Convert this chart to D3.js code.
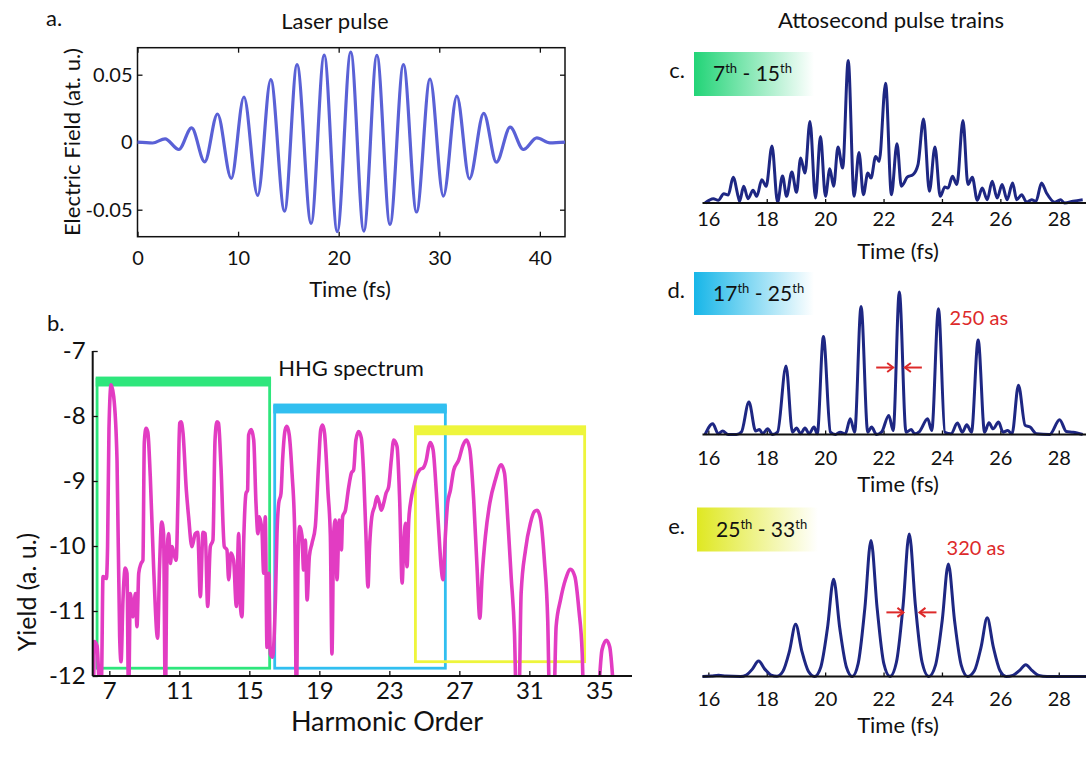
<!DOCTYPE html>
<html><head><meta charset="utf-8">
<script src="https://cdn.jsdelivr.net/npm/d3@7"></script>
<style>
body{margin:0;background:#fff;}
svg{display:block;font-family:Lato,"Open Sans",sans-serif;}
</style></head><body>
<svg id="fig" width="1086" height="758"></svg>
<script>
// ---------------- DATA ----------------
const laserTimeTicks = [0, 10, 20, 30, 40];
const laserFieldTicks = [-0.05, 0, 0.05];
const laserPulse = [[0,0],[1.5,-0.0006],[2.74,0.0025],[4.11,-0.0054],[5.38,0.0106],[6.68,-0.0145],[7.95,0.0209],[9.32,-0.0268],[10.58,0.0335],[11.95,-0.0394],[13.25,0.0463],[14.62,-0.0510],[15.86,0.0574],[17.26,-0.0601],[18.56,0.0645],[19.86,-0.0662],[21.2,0.0667],[22.5,-0.0658],[23.8,0.0643],[25.1,-0.0608],[26.44,0.0574],[27.74,-0.0517],[29.08,0.0468],[30.41,-0.0399],[31.75,0.0342],[33.0,-0.0271],[34.42,0.0214],[35.68,-0.0148],[37.05,0.0111],[38.36,-0.0054],[39.7,0.0032],[41.0,-0.0005],[42.5,0]];

const orderTicks = [7, 11, 15, 19, 23, 27, 31, 35];
const yieldTicks = [-7, -8, -9, -10, -11, -12];
const hhgSpectrum = [[6.10,-12.4],[6.14,-11.47],[6.30,-11.54],[6.45,-12.2],[6.55,-12.1],[6.64,-10.47],[6.83,-10.50],[6.90,-10.01],[6.98,-8.2],[7.10,-7.52],[7.25,-7.70],[7.44,-8.68],[7.59,-11.39],[7.67,-11.78],[7.78,-10.83],[7.91,-10.34],[8.01,-10.42],[8.10,-12.4],[8.20,-10.73],[8.35,-11.09],[8.49,-10.73],[8.58,-11.24],[8.68,-10.42],[8.81,-10.27],[8.92,-10.22],[9.00,-8.40],[9.10,-8.19],[9.20,-8.25],[9.34,-8.93],[9.53,-10.32],[9.76,-11.42],[9.87,-10.32],[9.99,-9.63],[10.10,-9.81],[10.20,-12.4],[10.30,-10.11],[10.39,-9.81],[10.49,-10.27],[10.59,-10.01],[10.71,-10.14],[10.82,-10.22],[10.92,-9.29],[11.02,-8.11],[11.10,-8.09],[11.21,-8.26],[11.40,-9.14],[11.53,-9.55],[11.72,-10.01],[11.91,-9.81],[12.05,-9.79],[12.20,-10.78],[12.35,-9.79],[12.48,-9.81],[12.62,-10.93],[12.77,-10.01],[12.92,-9.91],[13.04,-8.37],[13.15,-8.09],[13.24,-8.11],[13.38,-8.78],[13.57,-10.01],[13.72,-10.06],[13.82,-10.52],[13.95,-10.11],[14.10,-10.22],[14.26,-10.93],[14.39,-9.81],[14.49,-10.93],[14.58,-11.09],[14.68,-9.91],[14.81,-9.19],[14.90,-9.14],[14.96,-8.29],[15.11,-8.21],[15.25,-8.37],[15.38,-9.34],[15.49,-9.81],[15.57,-9.55],[15.72,-9.76],[15.82,-10.42],[15.91,-9.55],[16.01,-11.56],[16.11,-10.42],[16.20,-11.66],[16.33,-11.71],[16.49,-10.83],[16.58,-9.81],[16.68,-9.34],[16.81,-9.19],[16.90,-8.68],[17.05,-8.21],[17.15,-8.16],[17.28,-8.29],[17.44,-8.88],[17.59,-9.76],[17.69,-12.4],[17.78,-10.27],[17.88,-9.70],[18.01,-9.85],[18.10,-10.37],[18.20,-9.91],[18.30,-10.83],[18.43,-10.16],[18.58,-9.96],[18.77,-9.70],[18.96,-8.73],[19.08,-8.21],[19.19,-8.14],[19.30,-8.27],[19.50,-9.19],[19.63,-9.85],[19.72,-11.66],[19.82,-9.81],[19.91,-9.60],[20.01,-10.52],[20.14,-9.60],[20.26,-10.06],[20.33,-9.55],[20.49,-9.45],[20.68,-9.09],[20.83,-8.88],[20.96,-8.83],[21.09,-8.37],[21.25,-8.24],[21.40,-8.34],[21.53,-8.88],[21.66,-9.81],[21.78,-10.63],[21.87,-10.01],[22.00,-9.55],[22.16,-9.39],[22.30,-9.24],[22.43,-9.34],[22.54,-9.45],[22.68,-9.34],[22.81,-9.19],[22.96,-9.09],[23.11,-8.68],[23.25,-8.37],[23.44,-8.47],[23.59,-9.29],[23.73,-10.57],[23.82,-10.01],[23.92,-9.65],[24.01,-10.32],[24.11,-9.60],[24.24,-9.29],[24.39,-9.09],[24.54,-8.93],[24.73,-8.83],[24.96,-8.79],[25.11,-8.68],[25.25,-8.47],[25.34,-8.41],[25.50,-8.52],[25.69,-9.19],[25.88,-10.01],[25.96,-10.32],[26.07,-10.52],[26.20,-9.85],[26.33,-9.34],[26.49,-9.14],[26.68,-8.83],[26.96,-8.68],[27.21,-8.45],[27.40,-8.37],[27.59,-8.50],[27.82,-9.29],[28.01,-10.32],[28.17,-11.11],[28.30,-10.47],[28.49,-9.85],[28.74,-9.34],[29.06,-8.98],[29.39,-8.75],[29.58,-8.88],[29.77,-9.60],[29.96,-10.47],[30.15,-11.34],[30.26,-12.4],[30.40,-12.4],[30.53,-10.73],[30.78,-10.06],[31.06,-9.65],[31.29,-9.47],[31.44,-9.45],[31.63,-9.57],[31.86,-10.22],[32.05,-11.14],[32.16,-12.4],[32.40,-12.4],[32.53,-11.24],[32.78,-10.83],[33.06,-10.52],[33.35,-10.36],[33.60,-10.47],[33.83,-10.98],[34.02,-11.65],[34.11,-12.4],[34.87,-12.4],[35.15,-11.60],[35.40,-11.45],[35.59,-11.55],[35.78,-12.1],[35.85,-12.4]];

// harmonic windows: [first order, last order], top, bottom
const windowOrders = [[6.30,16.16],[16.45,26.2],[24.49,34.16]];
const windowTop = [-7.415, -7.83, -8.165];
const windowBottom = [-11.88, -11.88, -11.78];

const trainTimeTicks = [16, 18, 20, 22, 24, 26, 28];
const trainC = [[15.89,0],[16.17,0.03],[16.34,0.019],[16.53,0.065],[16.68,0.056],[16.85,0.18],[17.02,0.047],[17.07,0.012],[17.21,0.117],[17.36,0.03],[17.53,0.089],[17.66,0.047],[17.83,0.164],[17.98,0.117],[18.18,0.40],[18.37,0.005],[18.54,0.19],[18.68,0.047],[18.86,0.217],[19.02,0.075],[19.16,0.315],[19.31,0.21],[19.48,0.572],[19.67,0.035],[19.84,0.467],[20.01,0.047],[20.16,0.24],[20.29,0.117],[20.44,0.393],[20.60,0.245],[20.79,1.0],[20.99,0.047],[21.16,0.355],[21.31,0.058],[21.46,0.21],[21.57,0.175],[21.73,0.327],[21.85,0.292],[22.07,0.841],[22.27,0.058],[22.46,0.416],[22.61,0.117],[22.70,0.14],[22.81,0.182],[23.01,0.199],[23.18,0.269],[23.37,0.589],[23.57,0.082],[23.76,0.393],[23.94,0.047],[24.10,0.112],[24.21,0.105],[24.36,0.187],[24.51,0.129],[24.72,0.579],[24.89,0.129],[25.04,0.18],[25.21,0.019],[25.38,0.105],[25.55,0.023],[25.72,0.152],[25.89,0.035],[26.06,0.129],[26.23,0.023],[26.42,0.14],[26.56,0.023],[26.73,0.058],[26.90,0.005],[27.07,0.023],[27.22,0.012],[27.41,0.14],[27.58,0.07],[27.86,0.005],[28.06,0.023],[28.20,0],[28.49,0.012],[28.82,0.023]];
const trainD = [[15.89,0],[16.15,0.075],[16.34,0.005],[16.49,0.024],[16.68,0],[16.96,0],[17.13,0.016],[17.39,0.228],[17.62,0.024],[17.75,0.035],[17.86,0.005],[18.03,0.04],[18.20,0],[18.37,0.016],[18.66,0.48],[18.88,0.016],[19.02,0.045],[19.16,0.005],[19.31,0.045],[19.45,0.005],[19.62,0.052],[19.73,0.005],[19.94,0.687],[20.18,0.016],[20.35,0],[20.52,0.016],[20.69,0.005],[20.86,0.11],[21.01,0.016],[21.23,0.899],[21.46,0.016],[21.59,0.052],[21.76,0],[21.93,0.016],[22.18,0.134],[22.33,0.028],[22.54,1.0],[22.77,0.016],[22.95,0.035],[23.06,0.005],[23.23,0.021],[23.51,0.11],[23.65,0.028],[23.88,0.882],[24.10,0.016],[24.31,0.005],[24.53,0.08],[24.70,0.016],[24.85,0.068],[25.01,0.016],[25.24,0.664],[25.46,0.016],[25.61,0.082],[25.75,0.04],[25.94,0.087],[26.09,0.016],[26.25,0.028],[26.40,0.005],[26.62,0.346],[26.85,0.064],[27.02,0.052],[27.24,0.005],[27.69,0],[28.03,0.104],[28.26,0.021],[28.49,0.016],[28.82,0]];
const trainE = [[15.8,0],[16.1,0.003],[16.35,0.008],[16.6,0.003],[17.1,0],[17.3,0.01],[17.5,0.05],[17.72,0.108],[17.94,0.05],[18.15,0.01],[18.35,0.002],[18.55,0.035],[18.78,0.18],[18.99,0.367],[19.2,0.18],[19.43,0.035],[19.64,0],[19.85,0.065],[20.08,0.34],[20.29,0.682],[20.5,0.34],[20.73,0.065],[20.93,0],[21.13,0.09],[21.36,0.48],[21.57,0.955],[21.78,0.48],[22.01,0.09],[22.22,0],[22.44,0.1],[22.67,0.5],[22.88,1.0],[23.09,0.5],[23.32,0.1],[23.55,0],[23.78,0.08],[24.01,0.395],[24.22,0.79],[24.43,0.395],[24.66,0.08],[24.88,0],[25.11,0.04],[25.34,0.206],[25.55,0.412],[25.76,0.206],[25.99,0.04],[26.2,0],[26.43,0.008],[26.65,0.041],[26.87,0.082],[27.09,0.041],[27.31,0.008],[27.6,0],[28.95,0]];

const trainLabels = ["c.", "d.", "e."];
const trainRanges = [["7","15"],["17","25"],["25","33"]];
// FWHM markers: [left edge, right edge, level], text and its anchor
const fwhmMarks = [null, [22.33, 22.73, 0.47], [22.68, 23.23, 0.45]];
const fwhmText = [null, "250 as", "320 as"];
const fwhmTextPos = [null, [24.26, 0.77], [24.16, 0.85]];

// ---------------- DRAWING ----------------
const svg = d3.select("#fig");
const FONT = 'Lato,"Open Sans",sans-serif';
function styleAxis(g, size){
  g.attr("font-family", FONT).attr("font-size", size);
  g.selectAll("text").attr("fill", "#111");
  g.selectAll("line").attr("stroke", "#111").attr("stroke-width", 1.3);
  g.selectAll(".domain").remove();
}
const txt = (x, y, s, size, anchor="start", fill="#111") =>
  svg.append("text").attr("x", x).attr("y", y).attr("font-size", size)
     .attr("text-anchor", anchor).attr("fill", fill).attr("font-family", FONT).text(s);

// ---- Panel a ----
const xA = d3.scaleLinear([0, 42.5], [137.5, 565]);
const yA = d3.scaleLinear([-0.07, 0.07], [236.7, 47.7]);
svg.append("rect").attr("x", xA(0)).attr("y", yA(0.07))
  .attr("width", xA(42.5) - xA(0)).attr("height", yA(-0.07) - yA(0.07))
  .attr("fill", "none").attr("stroke", "#111").attr("stroke-width", 1.5);
const fmt = d => String(d);
styleAxis(svg.append("g").attr("transform", `translate(0,${yA(-0.07)})`)
  .call(d3.axisBottom(xA).tickValues(laserTimeTicks).tickSizeInner(-5).tickSizeOuter(0).tickPadding(14).tickFormat(fmt)), 20);
styleAxis(svg.append("g").attr("transform", `translate(0,${yA(0.07)})`)
  .call(d3.axisTop(xA).tickValues(laserTimeTicks).tickSizeInner(-5).tickSizeOuter(0).tickFormat("")), 20);
styleAxis(svg.append("g").attr("transform", `translate(${xA(0)},0)`)
  .call(d3.axisLeft(yA).tickValues(laserFieldTicks).tickSizeInner(-5).tickSizeOuter(0).tickPadding(5).tickFormat(fmt)), 20);
styleAxis(svg.append("g").attr("transform", `translate(${xA(42.5)},0)`)
  .call(d3.axisRight(yA).tickValues(laserFieldTicks).tickSizeInner(-5).tickSizeOuter(0).tickFormat("")), 20);
svg.append("path").datum(laserPulse)
  .attr("d", d3.line().x(d => xA(d[0])).y(d => yA(d[1])).curve(d3.curveMonotoneX))
  .attr("fill", "none").attr("stroke", "#5a61d6").attr("stroke-width", 3.2);
txt(46, 26, "a.", 22);
txt(335, 29, "Laser pulse", 22, "middle");
txt(350, 297, "Time (fs)", 22, "middle");
svg.append("text").attr("transform", `translate(80,142) rotate(-90)`)
  .attr("text-anchor", "middle").attr("font-size", 22).attr("font-family", FONT).attr("fill", "#111")
  .text("Electric Field (at. u.)");

// ---- Panel b ----
const xB = d3.scaleLinear([6.05, 36.5], [92.7, 625.6]);
const yB = d3.scaleLinear([-12, -7], [676, 351]);
svg.append("defs").append("clipPath").attr("id", "clipB")
  .append("rect").attr("x", xB(6.05)).attr("y", 330).attr("width", 560).attr("height", yB(-12) - 330 - 1);
const winColors = ["#2ee67c", "#31bff0", "#eef53c"];
windowOrders.forEach((w, i) => {
  const g = svg.append("g");
  g.append("rect").attr("x", xB(w[0])).attr("y", yB(windowTop[i]))
    .attr("width", xB(w[1]) - xB(w[0])).attr("height", yB(windowBottom[i]) - yB(windowTop[i]))
    .attr("fill", "none").attr("stroke", winColors[i]).attr("stroke-width", 2.8);
  g.append("rect").attr("x", xB(w[0]) - 1.4).attr("y", yB(windowTop[i]))
    .attr("width", xB(w[1]) - xB(w[0]) + 2.8).attr("height", 8.5)
    .attr("fill", winColors[i]);
});
svg.append("path").datum(hhgSpectrum).attr("clip-path", "url(#clipB)")
  .attr("d", d3.line().x(d => xB(d[0])).y(d => yB(d[1])).curve(d3.curveMonotoneX))
  .attr("fill", "none").attr("stroke", "#e23cc2").attr("stroke-width", 3.6).attr("stroke-linejoin", "round");
styleAxis(svg.append("g").attr("transform", `translate(0,${yB(-12)})`)
  .call(d3.axisBottom(xB).tickValues(orderTicks).tickSizeInner(-5).tickSizeOuter(0).tickPadding(6).tickFormat(fmt)), 24);
styleAxis(svg.append("g").attr("transform", `translate(${xB(6.05)},0)`)
  .call(d3.axisLeft(yB).tickValues(yieldTicks).tickSizeInner(-5).tickSizeOuter(0).tickPadding(7).tickFormat(fmt)), 24);
svg.append("line").attr("x1", xB(6.05)).attr("x2", 632).attr("y1", yB(-12)).attr("y2", yB(-12)).attr("stroke", "#111").attr("stroke-width", 2);
svg.append("line").attr("x1", xB(6.05)).attr("x2", xB(6.05)).attr("y1", yB(-7)).attr("y2", yB(-12)).attr("stroke", "#111").attr("stroke-width", 2);
txt(47, 331, "b.", 22);
txt(351, 376, "HHG spectrum", 22, "middle");
txt(387, 731, "Harmonic Order", 27, "middle");
svg.append("text").attr("transform", `translate(36,592) rotate(-90)`)
  .attr("text-anchor", "middle").attr("font-size", 25).attr("font-family", FONT).attr("fill", "#111")
  .text("Yield (a. u.)");

// ---- Panels c, d, e ----
const xT = d3.scaleLinear([15.8, 28.95], [702.5, 1086.5]);
const baselines = [203, 434.5, 676.5];
const trains = [trainC, trainD, trainE];
const boxes = [[694, 52, 120, 44], [694, 272, 120, 43], [697, 507.5, 121, 44]];
const boxColors = ["#22d477", "#17b6e8", "#dfe822"];
const tickLabelGap = [23, 30, 29];
const timeLabelGap = [56, 57, 56];
const defs = svg.select("defs");
txt(891, 28, "Attosecond pulse trains", 22, "middle");
trains.forEach((data, i) => {
  const y = d3.scaleLinear([0, 1], [baselines[i], baselines[i] - 142.5]);
  const gid = "grad" + i;
  const gr = defs.append("linearGradient").attr("id", gid);
  gr.append("stop").attr("offset", "0%").attr("stop-color", boxColors[i]);
  gr.append("stop").attr("offset", "100%").attr("stop-color", "#ffffff");
  const b = boxes[i];
  svg.append("rect").attr("x", b[0]).attr("y", b[1]).attr("width", b[2]).attr("height", b[3]).attr("fill", `url(#${gid})`);
  const t = svg.append("text").attr("x", b[0] + 19).attr("y", b[1] + 29).attr("font-size", 21)
    .attr("font-family", FONT).attr("fill", "#111");
  t.append("tspan").text(trainRanges[i][0]);
  t.append("tspan").attr("font-size", 13).attr("dy", -8).text("th");
  t.append("tspan").attr("dy", 8).text(" - " + trainRanges[i][1]);
  t.append("tspan").attr("font-size", 13).attr("dy", -8).text("th");
  txt(685, b[1] + 26, trainLabels[i], 22, "end");

  // axis
  const ax = svg.append("g").attr("transform", `translate(0,${baselines[i]})`)
    .call(d3.axisBottom(xT).tickValues(trainTimeTicks).tickSizeInner(-4).tickSizeOuter(0)
      .tickPadding(tickLabelGap[i] - 14.2).tickFormat(fmt));
  styleAxis(ax, 20);
  svg.append("path").datum(data)
    .attr("d", d3.line().x(d => xT(d[0])).y(d => y(d[1])).curve(d3.curveMonotoneX))
    .attr("fill", "none").attr("stroke", "#1e2783").attr("stroke-width", 3).attr("stroke-linejoin", "round");
  svg.append("line").attr("x1", xT(15.8)).attr("x2", 1086).attr("y1", baselines[i]).attr("y2", baselines[i])
    .attr("stroke", "#111").attr("stroke-width", 1.8);
  txt(898, baselines[i] + timeLabelGap[i], "Time (fs)", 22, "middle");

  if (fwhmMarks[i]) {
    const [l, r, lev] = fwhmMarks[i];
    const yy = y(lev), red = "#dd2a2a";
    const arrow = (x0, x1) => {
      const dir = Math.sign(x1 - x0);
      svg.append("line").attr("x1", x0).attr("x2", x1).attr("y1", yy).attr("y2", yy).attr("stroke", red).attr("stroke-width", 2);
      svg.append("path").attr("d", `M${x1 - dir*6},${yy-4.5}L${x1},${yy}L${x1 - dir*6},${yy+4.5}`)
        .attr("fill", "none").attr("stroke", red).attr("stroke-width", 2);
    };
    arrow(xT(l) - 17, xT(l));
    arrow(xT(r) + 17, xT(r));
    txt(xT(fwhmTextPos[i][0]), y(fwhmTextPos[i][1]), fwhmText[i], 20, "start", red);
  }
});
</script></body></html>
